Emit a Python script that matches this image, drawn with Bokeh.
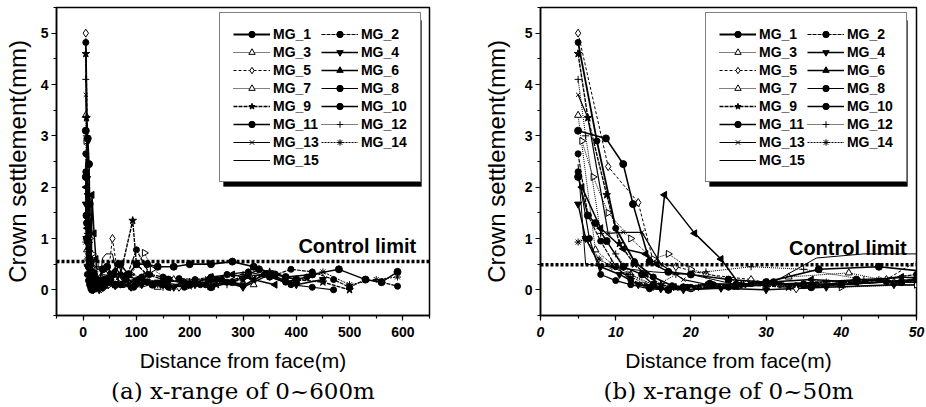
import math
from bokeh.plotting import figure
from bokeh.models import (Legend, LegendItem, Span, Label, SingleIntervalTicker, Title,
                          BoxAnnotation)
from bokeh.layouts import row
from bokeh.embed import file_html
from bokeh.resources import INLINE

# ---------------- data ----------------
series_names = ["MG_1", "MG_2", "MG_3", "MG_4", "MG_5", "MG_6", "MG_7", "MG_8",
                "MG_9", "MG_10", "MG_11", "MG_12", "MG_13", "MG_14", "MG_15"]

mg1_x = [5, 7.5, 10, 12.5, 15, 17.5, 20, 25, 30, 35, 40, 50, 60, 75, 90, 110, 130, 160, 190, 220, 260, 300, 340, 380, 420]
mg1_y = [4.82, 2.9, 1.2, 0.55, 0.25, 0.08, 0.02, 0.05, 0.1, 0.12, 0.1, 0.2, 0.35, 0.1, 0.05, 0.25, 0.12, 0.05, 0.15, 0.1, 0.2, 0.08, 0.3, 0.15, 0.25]

mg2_x = [5, 6.3, 8, 10, 12, 14.5, 17, 20, 23, 28, 34, 42, 50, 65, 80, 100, 125, 150, 180, 210, 240, 270, 310, 350, 390, 430, 470, 500, 530, 560, 590]
mg2_y = [2.65, 1.45, 0.95, 0.45, 0.2, 0.05, 0.0, 0.05, 0.1, 0.12, 0.08, 0.15, 0.3, 0.5, 0.2, 0.78, 0.3, 0.25, 0.22, 0.2, 0.25, 0.15, 0.3, 0.25, 0.4, 0.35, 0.2, 0.05, 0.2, 0.15, 0.07]

mg3_x = [5, 7.3, 9.5, 12, 15, 20, 26, 33, 41, 47, 60, 80, 110, 140, 170, 200, 240, 280, 320]
mg3_y = [3.4, 0.78, 0.5, 0.3, 0.1, 0.02, 0.05, 0.25, 0.33, 0.15, 0.2, 0.1, 0.15, 0.05, 0.2, 0.1, 0.05, 0.15, 0.1]

mg4_x = [5, 6, 8, 10.5, 13, 16, 19, 24, 30, 38, 47, 60, 75, 90, 110, 140, 170, 210, 250, 300, 350, 400, 450]
mg4_y = [1.67, 1.0, 0.45, 0.3, 0.1, 0.02, 0.0, 0.03, 0.0, 0.05, 0.1, 0.08, 0.2, 0.05, 0.1, 0.15, 0.05, 0.1, 0.2, 0.05, 0.3, 0.1, 0.2]

mg5_x = [5, 9, 13, 15, 18, 22, 28, 34, 40, 46, 55, 65, 80, 100, 120, 150, 180]
mg5_y = [5.0, 2.4, 1.7, 0.55, 0.45, 0.3, 0.2, 0.02, 0.1, 0.2, 1.0, 0.3, 0.15, 0.1, 0.2, 0.1, 0.05]

mg6_x = [5.5, 8, 11, 14, 15.5, 16.5, 20.5, 24, 26.5, 30, 36, 42, 48, 60, 80, 100, 130, 160, 200, 240, 280, 320, 360]
mg6_y = [2.0, 1.2, 0.8, 0.7, 0.5, 1.85, 1.1, 0.6, 0.1, 0.15, 0.2, 0.15, 0.25, 0.1, 0.3, 0.2, 0.1, 0.05, 0.1, 0.25, 0.3, 0.2, 0.1]

mg7_x = [5.5, 7, 9, 12, 15, 17, 20, 25, 32, 40, 50, 70, 90, 115, 130, 160, 200, 250]
mg7_y = [2.9, 2.2, 1.5, 1.0, 0.6, 0.7, 0.4, 0.2, 0.1, 0.05, 0.1, 0.2, 0.3, 0.72, 0.4, 0.2, 0.1, 0.15]

mg8_x = [5, 6.5, 8, 10, 12, 14.5, 17, 19.5, 22.5, 26, 30, 35, 40, 46, 52, 70, 95, 120, 150, 190, 230, 270, 310, 350, 390, 430, 470]
mg8_y = [2.3, 1.0, 0.3, 0.18, 0.1, 0.02, 0.0, 0.05, 0.12, 0.1, 0.15, 0.08, 0.1, 0.15, 0.2, 0.1, 0.05, 0.15, 0.1, 0.05, 0.1, 0.3, 0.35, 0.25, 0.1, 0.05, 0.0]

mg9_x = [5, 6.3, 8.8, 10.5, 12.5, 14, 16, 18, 22, 27, 33, 40, 50, 70, 93, 100, 120, 150, 200, 250, 300, 350, 400, 450, 500]
mg9_y = [4.6, 3.35, 1.85, 0.9, 0.5, 0.3, 0.1, 0.05, 0.08, 0.1, 0.05, 0.1, 0.2, 0.3, 1.35, 0.5, 0.3, 0.2, 0.15, 0.1, 0.2, 0.35, 0.2, 0.15, 0.0]

mg10_x = [5, 8.7, 11, 12.3, 14.5, 17, 20, 25, 30, 37, 45, 55, 70, 85, 100, 120, 140, 170, 200, 240, 280, 320, 360, 400]
mg10_y = [3.1, 2.95, 2.45, 1.67, 0.55, 0.35, 0.3, 0.2, 0.15, 0.4, 0.45, 0.3, 0.5, 0.3, 0.5, 0.5, 0.45, 0.45, 0.5, 0.5, 0.55, 0.45, 0.3, 0.2]

mg11_x = [5, 6.3, 7.3, 8.8, 11, 13.5, 15, 17, 19, 22.5, 26, 31, 36, 42, 48, 60, 80, 100, 130, 160, 200, 240, 280, 330, 380, 430, 480, 530, 560, 590]
mg11_y = [2.2, 1.45, 1.3, 0.95, 0.45, 0.3, 0.1, 0.0, 0.05, 0.12, 0.1, 0.15, 0.05, 0.2, 0.15, 0.1, 0.2, 0.15, 0.1, 0.2, 0.1, 0.05, 0.15, 0.4, 0.25, 0.3, 0.4, 0.2, 0.15, 0.35]

mg12_x = [5, 6, 8, 10, 12, 15, 18, 22, 28, 35, 43, 50, 70, 90, 120, 150, 190, 230, 270]
mg12_y = [4.1, 3.0, 1.1, 0.7, 0.3, 0.05, 0.3, 0.35, 0.45, 0.4, 0.2, 0.15, 0.1, 0.3, 0.2, 0.05, 0.1, 0.2, 0.1]

mg13_x = [5, 6.3, 9, 11, 13.5, 16, 19, 24, 30, 36.7, 42, 50, 65, 80, 100, 130, 160, 200, 250, 300]
mg13_y = [3.8, 3.35, 1.1, 1.12, 1.12, 0.5, 0.2, 0.05, 0.1, 0.15, 0.2, 0.25, 0.3, 0.1, 0.2, 0.15, 0.1, 0.05, 0.2, 0.1]

mg14_x = [5, 6, 7.8, 9.5, 11.5, 14, 17, 21, 26, 32, 38, 45, 55, 70, 90, 110, 140, 170, 210, 250, 300, 350, 400, 450, 500, 550, 590]
mg14_y = [0.93, 1.0, 0.6, 0.45, 0.3, 0.1, 0.0, 0.05, 0.08, 0.1, 0.15, 0.2, 0.1, 0.3, 0.15, 0.2, 0.1, 0.05, 0.15, 0.2, 0.3, 0.25, 0.15, 0.35, 0.1, 0.2, 0.25]

mg15_x = [5, 6, 9, 12, 15, 20, 26, 31, 36.7, 43, 55, 65, 80, 110, 140, 180, 220, 260, 300]
mg15_y = [2.45, 0.5, 0.45, 0.4, 0.35, 0.3, 0.1, 0.15, 0.62, 0.7, 0.7, 0.2, 0.1, 0.05, 0.15, 0.1, 0.2, 0.15, 0.1]

series_x = [mg1_x, mg2_x, mg3_x, mg4_x, mg5_x, mg6_x, mg7_x, mg8_x, mg9_x, mg10_x, mg11_x, mg12_x, mg13_x, mg14_x, mg15_x]
series_y = [mg1_y, mg2_y, mg3_y, mg4_y, mg5_y, mg6_y, mg7_y, mg8_y, mg9_y, mg10_y, mg11_y, mg12_y, mg13_y, mg14_y, mg15_y]

control_limit_a = 0.55
control_limit_b = 0.49

# ---------------- styles ----------------
# (marker, filled, angle, size, dash, width)
styles = [
    ("circle", True, 0, 6, "solid", 1.8),
    ("circle", True, 0, 6, "4 1", 1.2),
    ("triangle", False, 0, 7, "1 1", 1.0),
    ("inverted_triangle", True, 0, 7, "solid", 1.5),
    ("diamond", False, 0, 8, "3 2", 1.0),
    ("triangle", True, math.pi / 2, 7, "solid", 1.5),
    ("triangle", False, -math.pi / 2, 7, "1 1", 1.0),
    ("circle", True, 0, 6, "solid", 1.2),
    ("star", True, 0, 8, "4 1", 1.4),
    ("circle", True, 0, 7, "solid", 1.6),
    ("circle", True, 0, 7, "solid", 1.4),
    ("cross", False, 0, 7, "1 1", 1.0),
    ("x", False, 0, 6, "solid", 1.2),
    ("asterisk", False, 0, 7, "2 1", 1.0),
    (None, False, 0, 0, "solid", 1.0),
]

SANS = "Liberation Sans"
LEG_W = 198
LEG_H = 166


def make_panel(x_start, x_end, x_interval, limit, label_x, label_y, caption,
               border_left, border_right, ylabel_standoff, xtick_style, legend_x):
    p = figure(width=463, height=407, x_range=(x_start, x_end), y_range=(-0.5, 5.5),
               output_backend="svg", toolbar_location=None,
               min_border_left=border_left, min_border_right=border_right,
               min_border_top=7, min_border_bottom=92)
    p.grid.visible = False
    p.outline_line_color = "black"
    p.outline_line_width = 1.5
    p.background_fill_color = "white"
    p.border_fill_color = "white"

    p.xaxis.ticker = SingleIntervalTicker(interval=x_interval, num_minor_ticks=2)
    p.yaxis.ticker = SingleIntervalTicker(interval=1, num_minor_ticks=2)
    for ax in (p.xaxis, p.yaxis):
        ax.axis_line_width = 1.5
        ax.major_tick_line_width = 1.2
        ax.minor_tick_line_width = 1.2
        ax.major_tick_out = 5
        ax.major_tick_in = 0
        ax.minor_tick_out = 3
        ax.minor_tick_in = 0
        ax.major_label_text_font = SANS
        ax.major_label_text_font_size = "14px"
        ax.major_label_text_color = "black"
        ax.axis_label_text_font = SANS
        ax.axis_label_text_font_style = "normal"
        ax.axis_label_text_color = "black"
    p.yaxis.major_label_standoff = 3
    p.xaxis.major_label_standoff = 6
    p.yaxis.major_label_text_font_style = "bold"
    p.xaxis.major_label_text_font_style = xtick_style
    p.xaxis.axis_label = "Distance from face(m)"
    p.xaxis.axis_label_text_font_size = "21px"
    p.xaxis.axis_label_standoff = 9
    p.yaxis.axis_label = "Crown settlement(mm)"
    p.yaxis.axis_label_text_font_size = "24px"
    p.yaxis.axis_label_standoff = ylabel_standoff

    items = []
    for name, xs, ys, st in zip(series_names, series_x, series_y, styles):
        marker, filled, angle, size, dash, lw = st
        rs = [p.line(xs, ys, line_color="black", line_width=lw, line_dash=dash)]
        if marker is not None:
            rs.append(p.scatter(xs, ys, marker=marker, size=size, angle=angle,
                                line_color="black", line_width=1.0,
                                fill_color="black" if filled else "white"))
        items.append(LegendItem(label=name, renderers=rs))

    p.add_layout(Span(location=limit, dimension="width", line_color="black",
                      line_width=3.5, line_dash="3 2"))
    p.add_layout(Label(x=label_x, y=label_y, text="Control limit", text_align="right",
                       text_baseline="alphabetic", text_font=SANS, text_font_size="20px",
                       text_font_style="bold", text_color="black"))

    leg_y = 133
    # drop shadow behind the legend box
    p.add_layout(BoxAnnotation(left=legend_x + 4, right=legend_x + LEG_W + 4,
                               bottom=leg_y - 4, top=leg_y + LEG_H - 4,
                               left_units="screen", right_units="screen",
                               bottom_units="screen", top_units="screen",
                               fill_color="black", fill_alpha=1.0, line_color="black",
                               level="overlay"))
    lg = Legend(items=items, location=(legend_x, leg_y), orientation="horizontal", ncols=2,
                glyph_width=37, glyph_height=16, label_height=16, label_standoff=3,
                spacing=2, padding=13, margin=0,
                label_text_font=SANS, label_text_font_size="14px",
                label_text_font_style="bold", label_text_color="black",
                border_line_color="black", border_line_width=1.5,
                background_fill_color="white", background_fill_alpha=1.0)
    p.add_layout(lg, "center")

    p.add_layout(Title(text=caption, align="center", text_font="DejaVu Serif",
                       text_font_size="23px", text_font_style="normal",
                       text_color="black", standoff=2), "below")
    return p


pa = make_panel(-50, 650, 100, control_limit_a, 625, 0.85, "(a) x-range of 0~600m",
                55, 34, 7, "bold", 163)
pb = make_panel(0, 50, 10, control_limit_b, 48.7, 0.82, "(b) x-range of 0~50m",
                77, 10, 12, "bold italic", 165)

layout = row(pa, pb)
open("out.html", "w").write(file_html(layout, INLINE))
